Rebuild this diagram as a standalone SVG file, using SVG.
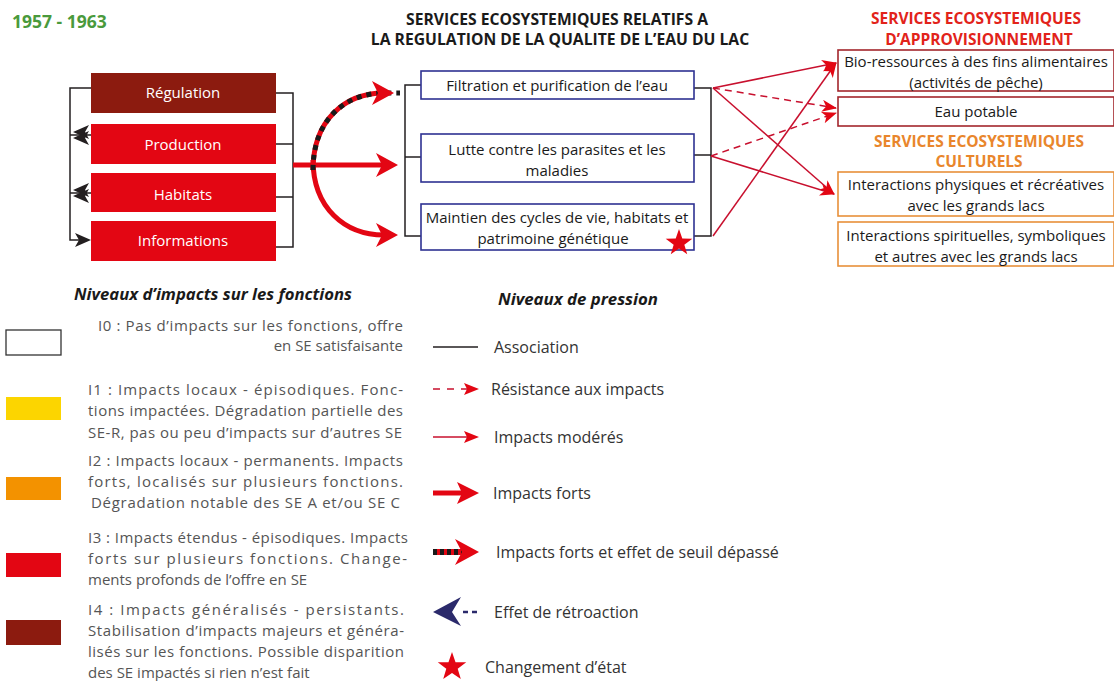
<svg xmlns="http://www.w3.org/2000/svg" width="1114" height="681" viewBox="0 0 1114 681">
<defs>
<style>
text { font-family: "Open Sans", "Liberation Sans", sans-serif; }
.fnlab { font-size: 15px; fill: #ffffff; text-anchor: middle; }
.midt { font-size: 15px; fill: #1a1a1a; text-anchor: middle; }
.rt { font-size: 15px; fill: #1a1a1a; text-anchor: middle; }
.midbox { fill: #ffffff; stroke: #2e3192; stroke-width: 1.6; }
.provbox { fill: #ffffff; stroke: #a3262c; stroke-width: 1.6; }
.cultbox { fill: #ffffff; stroke: #e8903a; stroke-width: 1.6; }
.assoc { fill: none; stroke: #231f20; stroke-width: 1.5; }
.mod { fill: none; stroke: #c8102e; stroke-width: 1.5; marker-end: url(#ah); }
.res { fill: none; stroke: #c8102e; stroke-width: 1.5; stroke-dasharray: 7 5; marker-end: url(#ah); }
.strong { fill: none; stroke: #e30613; stroke-width: 5; }
.head { fill: #e30613; }
.fb { fill: #231f20; }
.ttl { font-size: 15.7px; font-weight: bold; fill: #1a1a1a; text-anchor: middle; }
.leg { font-size: 15px; fill: #555555; font-weight: 400; }
.legr { font-size: 16px; fill: #333333; }
.lt { font-size: 16px; font-weight: bold; font-style: italic; fill: #1a1a1a; }
</style>
<marker id="ah" markerWidth="16" markerHeight="12" refX="14" refY="6" orient="auto" markerUnits="userSpaceOnUse">
<path d="M0,0 L15,6 L0,12 L4,6 z" fill="#e30613"/>
</marker>
<polygon id="star" points="0,-14 3.29,-4.53 13.31,-4.33 5.33,1.73 8.23,11.33 0,5.6 -8.23,11.33 -5.33,1.73 -13.31,-4.33 -3.29,-4.53" fill="#e30613"/>
</defs>

<rect x="0" y="0" width="1114" height="681" fill="#ffffff"/>

<!-- Titles -->
<g id="titles">
<text x="12" y="28" style="font-size:17.5px;font-weight:bold;fill:#4a9a3c">1957 - 1963</text>
<text x="557" y="25" class="ttl">SERVICES ECOSYSTEMIQUES RELATIFS A</text>
<text x="560" y="45" class="ttl">LA REGULATION DE LA QUALITE DE L’EAU DU LAC</text>
<text x="976" y="24" style="font-size:15.5px;font-weight:bold;fill:#e2231a;text-anchor:middle">SERVICES ECOSYSTEMIQUES</text>
<text x="979" y="45" style="font-size:15.5px;font-weight:bold;fill:#e2231a;text-anchor:middle">D’APPROVISIONNEMENT</text>
<text x="979" y="147" style="font-size:15.5px;font-weight:bold;fill:#e9862c;text-anchor:middle">SERVICES ECOSYSTEMIQUES</text>
<text x="979" y="167" style="font-size:15.5px;font-weight:bold;fill:#e9862c;text-anchor:middle">CULTURELS</text>
</g>

<!-- Connectors -->
<g id="connectors">
<!-- left feedback bracket -->
<path class="assoc" d="M91,88 H70 V240 H80"/>
<path class="assoc" d="M70,135 H91"/>
<path class="assoc" d="M70,193 H91"/>
<polygon class="fb" points="73,132 89,125 85,132 89,139"/>
<polygon class="fb" points="73,138 89,131 85,138 89,145"/>
<polygon class="fb" points="73,190 89,183 85,190 89,197"/>
<polygon class="fb" points="73,196 89,189 85,196 89,203"/>
<polygon class="fb" points="91,240 75,233 79,240 75,247"/>
<!-- right bracket of functions -->
<path class="assoc" d="M276,93 H293 V247 H276"/>
<path class="assoc" d="M276,144 H293"/>
<path class="assoc" d="M276,197 H293"/>
<!-- strong arrows -->
<path class="strong" d="M293,165 H384"/>
<polygon class="head" points="376,153 398,165 376,177 382,165"/>
<path class="strong" d="M313,160 C313,208 345,235 384,235"/>
<polygon class="head" points="376,223 398,235 376,247 382,235"/>
<path class="strong" d="M313,170 C313,120 345,93 384,93"/>
<path d="M313,170 C313,120 345,93 384,93 L400,93" fill="none" stroke="#1a1a1a" stroke-width="5" stroke-dasharray="5 5"/>
<polygon class="head" points="372,81 394,93 372,105 378,93"/>
<!-- middle brackets -->
<path class="assoc" d="M421,85 H405 V236 H421"/>
<path class="assoc" d="M405,157 H421"/>
<path class="assoc" d="M694,88 H711 V236 H694"/>
<path class="assoc" d="M694,155 H711"/>
<!-- to provisioning / cultural services -->
<line class="mod" x1="713" y1="88" x2="836" y2="63"/>
<line class="res" x1="713" y1="88" x2="836" y2="108"/>
<line class="mod" x1="713" y1="88" x2="834" y2="194"/>
<line class="res" x1="711" y1="156" x2="836" y2="113"/>
<line class="mod" x1="711" y1="156" x2="834" y2="194"/>
<line class="mod" x1="713" y1="236" x2="836" y2="63"/>
</g>

<!-- Function nodes -->
<g id="fn-regulation">
<rect x="91" y="73" width="185" height="40" fill="#8c1b0f"/>
<text x="183" y="98" class="fnlab">Régulation</text>
</g>
<g id="fn-production">
<rect x="91" y="124" width="185" height="40" fill="#e30613"/>
<text x="183" y="150" class="fnlab">Production</text>
</g>
<g id="fn-habitats">
<rect x="91" y="173" width="185" height="39" fill="#e30613"/>
<text x="183" y="200" class="fnlab">Habitats</text>
</g>
<g id="fn-informations">
<rect x="91" y="221" width="185" height="40" fill="#e30613"/>
<text x="183" y="246" class="fnlab">Informations</text>
</g>

<!-- Regulation services -->
<g id="se-filtration">
<rect class="midbox" x="421" y="71" width="273" height="28"/>
<text x="557" y="91" class="midt">Filtration et purification de l’eau</text>
</g>
<g id="se-lutte">
<rect class="midbox" x="421" y="134" width="273" height="48"/>
<text x="557" y="155" class="midt">Lutte contre les parasites et les</text>
<text x="557" y="176" class="midt">maladies</text>
</g>
<g id="se-maintien">
<rect class="midbox" x="421" y="204" width="273" height="46"/>
<text x="557" y="223" class="midt">Maintien des cycles de vie, habitats et</text>
<text x="553" y="244" class="midt">patrimoine génétique</text>
<use href="#star" transform="translate(679,243)"/>
</g>

<!-- Provisioning services -->
<g id="sa-bio">
<rect class="provbox" x="838" y="50" width="276" height="41"/>
<text x="976" y="67" class="rt">Bio-ressources à des fins alimentaires</text>
<text x="976" y="88" class="rt">(activités de pêche)</text>
</g>
<g id="sa-eau">
<rect class="provbox" x="838" y="97" width="276" height="29"/>
<text x="976" y="117" class="rt">Eau potable</text>
</g>
<!-- Cultural services -->
<g id="sc-physiques">
<rect class="cultbox" x="838" y="172" width="276" height="44"/>
<text x="976" y="190" class="rt">Interactions physiques et récréatives</text>
<text x="976" y="211" class="rt">avec les grands lacs</text>
</g>
<g id="sc-spirituelles">
<rect class="cultbox" x="838" y="222" width="276" height="44"/>
<text x="976" y="241" class="rt">Interactions spirituelles, symboliques</text>
<text x="976" y="262" class="rt">et autres avec les grands lacs</text>
</g>

<!-- Legend: impacts -->
<g id="legend-impacts">
<text x="74" y="300" class="lt" textLength="278" lengthAdjust="spacingAndGlyphs">Niveaux d’impacts sur les fonctions</text>
<rect x="6" y="330" width="55" height="25" fill="#ffffff" stroke="#333333" stroke-width="1.3"/>
<text x="98" y="331" class="leg" textLength="305" lengthAdjust="spacing">I0 : Pas d’impacts sur les fonctions, offre</text>
<text x="403" y="351" class="leg" text-anchor="end">en SE satisfaisante</text>

<rect x="6" y="397" width="55" height="23" fill="#fcd500"/>
<text x="88" y="395" class="leg" textLength="315" lengthAdjust="spacing">I1 : Impacts locaux - épisodiques. Fonc-</text>
<text x="88" y="416" class="leg" textLength="315" lengthAdjust="spacing">tions impactées. Dégradation partielle des</text>
<text x="88" y="438" class="leg" textLength="314" lengthAdjust="spacing">SE-R, pas ou peu d’impacts sur d’autres SE</text>

<rect x="6" y="477" width="55" height="23" fill="#f39200"/>
<text x="88" y="466" class="leg" textLength="315" lengthAdjust="spacing">I2 : Impacts locaux - permanents. Impacts</text>
<text x="88" y="487" class="leg" textLength="315" lengthAdjust="spacing">forts, localisés sur plusieurs fonctions.</text>
<text x="91" y="508" class="leg" textLength="309" lengthAdjust="spacing">Dégradation notable des SE A et/ou SE C</text>

<rect x="6" y="553" width="55" height="24" fill="#e30613"/>
<text x="88" y="543" class="leg" textLength="320" lengthAdjust="spacing">I3 : Impacts étendus - épisodiques. Impacts</text>
<text x="88" y="564" class="leg" textLength="319" lengthAdjust="spacing">forts sur plusieurs fonctions.  Change-</text>
<text x="88" y="585" class="leg">ments profonds de l’offre en SE</text>

<rect x="6" y="620" width="55" height="25" fill="#8c1b0f"/>
<text x="88" y="615" class="leg" textLength="316" lengthAdjust="spacing">I4 : Impacts généralisés - persistants.</text>
<text x="88" y="636" class="leg" textLength="316" lengthAdjust="spacing">Stabilisation d’impacts majeurs et généra-</text>
<text x="88" y="657" class="leg" textLength="316" lengthAdjust="spacing">lisés sur les fonctions. Possible disparition</text>
<text x="88" y="678" class="leg">des SE impactés si rien n’est fait</text>
</g>

<!-- Legend: pressure -->
<g id="legend-pression">
<text x="498" y="305" class="lt" textLength="160" lengthAdjust="spacingAndGlyphs">Niveaux de pression</text>

<line x1="433" y1="347" x2="478" y2="347" stroke="#231f20" stroke-width="1.5"/>
<text x="494" y="353" class="legr">Association</text>

<line x1="433" y1="389" x2="468" y2="389" stroke="#c8102e" stroke-width="1.5" stroke-dasharray="7 7"/>
<polygon class="head" points="464,383 479,389 464,395 467,389"/>
<text x="491" y="395" class="legr">Résistance aux impacts</text>

<line x1="433" y1="437" x2="468" y2="437" stroke="#c8102e" stroke-width="1.5"/>
<polygon class="head" points="464,431 479,437 464,443 467,437"/>
<text x="494" y="443" class="legr">Impacts modérés</text>

<line x1="433" y1="493" x2="462" y2="493" stroke="#e30613" stroke-width="5"/>
<polygon class="head" points="457,482 479,493 457,504 462,493"/>
<text x="493" y="499" class="legr">Impacts forts</text>

<line x1="433" y1="552" x2="463" y2="552" stroke="#e30613" stroke-width="6"/>
<line x1="433" y1="552" x2="463" y2="552" stroke="#1a1a1a" stroke-width="6" stroke-dasharray="4 3"/>
<polygon class="head" points="455,539 479,552 455,565 462,552"/>
<text x="496" y="558" class="legr">Impacts forts et effet de seuil dépassé</text>

<polygon points="433,612 461,597 452,612 461,626" fill="#2b2a6b"/>
<line x1="463" y1="612" x2="478" y2="612" stroke="#2b2a6b" stroke-width="2.5" stroke-dasharray="5 4"/>
<text x="494" y="618" class="legr">Effet de rétroaction</text>

<use href="#star" transform="translate(452,667) scale(1.07)"/>
<text x="485" y="673" class="legr">Changement d’état</text>
</g>
</svg>
